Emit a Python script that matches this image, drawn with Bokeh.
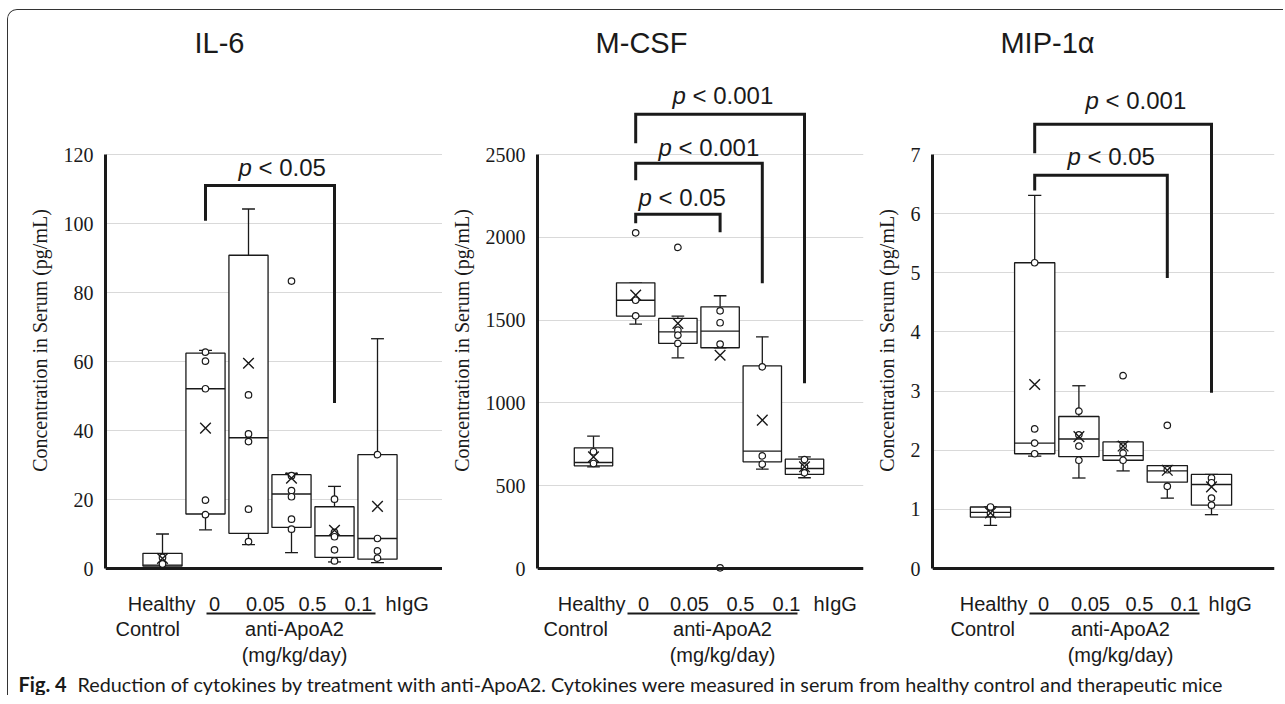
from bokeh.plotting import figure
from bokeh.models import Range1d, FixedTicker, Span, Label
from bokeh.layouts import row, column
from bokeh.embed import file_html
from bokeh.resources import INLINE
from bokeh.core.properties import value

# ---------------- data ----------------
group_top = ["Healthy", "0", "0.05", "0.5", "0.1", "hIgG"]
group_bottom = ["Control", "anti-ApoA2", "(mg/kg/day)"]
group_pos = [1, 2, 3, 4, 5, 6]
y_label = "Concentration in Serum (pg/mL)"

# IL-6
il6_ticks = [0, 20, 40, 60, 80, 100, 120]
il6_q1 = [0.7, 15.8, 10.2, 11.9, 3.2, 2.7]
il6_median = [1.0, 52.1, 37.9, 21.6, 9.5, 8.7]
il6_q3 = [4.4, 62.4, 90.8, 27.2, 17.9, 33.0]
il6_low = [0.0, 11.2, 6.9, 4.6, 1.9, 1.7]
il6_high = [10.0, 63.2, 104.2, 27.6, 23.8, 66.6]
il6_mean = [2.9, 40.7, 59.5, 26.2, 11.1, 18.0]
il6_points = [[3.2, 1.3], [62.7, 60.1, 52.1, 19.8, 15.6], [50.3, 39.0, 36.8, 17.2, 7.8],
              [83.3, 26.9, 22.6, 20.8, 14.3, 11.4], [20.1, 10.5, 9.2, 5.4, 2.2], [33.0, 8.7, 5.1, 3.0]]
il6_br_from = [2]
il6_br_to = [5]
il6_br_top = [111]
il6_br_left_end = [100.8]
il6_br_right_end = [48]
il6_br_text = ["< 0.05"]

# M-CSF
mcsf_ticks = [0, 500, 1000, 1500, 2000, 2500]
mcsf_q1 = [620, 1524, 1359, 1333, 644, 568]
mcsf_median = [640, 1620, 1429, 1433, 709, 604]
mcsf_q3 = [729, 1725, 1510, 1580, 1224, 660]
mcsf_low = [614, 1476, 1272, 1333, 600, 548]
mcsf_high = [799, 1725, 1524, 1647, 1399, 674]
mcsf_mean = [674, 1651, 1480, 1288, 896, 614]
mcsf_points = [[705, 634], [2027, 1620, 1526], [1939, 1439, 1409, 1359],
               [1556, 1484, 1355, 4], [1218, 680, 630], [658, 614, 578]]
mcsf_br_from = [2, 2, 2]
mcsf_br_to = [4, 5, 6]
mcsf_br_top = [2139, 2447, 2743]
mcsf_br_left_end = [2085, 2345, 2568]
mcsf_br_right_end = [2031, 1723, 1119]
mcsf_br_text = ["< 0.05", "< 0.001", "< 0.001"]

# MIP-1alpha
mip_ticks = [0, 1, 2, 3, 4, 5, 6, 7]
mip_q1 = [0.87, 1.94, 1.89, 1.83, 1.46, 1.07]
mip_median = [0.95, 2.12, 2.19, 1.91, 1.65, 1.42]
mip_q3 = [1.04, 5.17, 2.57, 2.14, 1.74, 1.59]
mip_low = [0.73, 1.90, 1.53, 1.65, 1.19, 0.91]
mip_high = [1.04, 6.31, 3.09, 2.14, 1.74, 1.59]
mip_mean = [0.94, 3.11, 2.23, 2.07, 1.66, 1.38]
mip_points = [[1.04, 0.93], [5.17, 2.36, 2.12, 1.94], [2.66, 2.26, 2.07, 1.83],
              [3.26, 2.07, 1.95, 1.83], [2.42, 1.67, 1.39], [1.53, 1.45, 1.19, 1.07]]
mip_br_from = [2, 2]
mip_br_to = [5, 6]
mip_br_top = [6.65, 7.51]
mip_br_left_end = [6.39, 7.02]
mip_br_right_end = [4.91, 2.97]
mip_br_text = ["< 0.05", "< 0.001"]

caption_bold = "Fig. 4"
caption_text = ("Reduction of cytokines by treatment with anti-ApoA2. Cytokines were measured "
                "in serum from healthy control and therapeutic mice")

# ---------------- layout / style (page pixels) ----------------
INK = "#1a1a1a"
GRID = "#d9d9d9"
SANS = "Liberation Sans"
SERIF = "Liberation Serif"
PAGE_TOP = 10
FIG_H = 660
ZERO_Y = 568
TOP_Y = 154
BOX_W = 0.91
CAP_W = 0.3
TOTAL_W = 1267

L1 = dict(fig_left=8, fig_right=442, frame_left=105, frame_right=442, c1=162, step=43.0,
          title_x=219, plabels=[(238, 167)],
          xl=dict(healthy=195, nums=[214, 265, 312, 358], higg=385, ul=(206, 375), control=115, anti=294))
L2 = dict(fig_left=442, fig_right=870, frame_left=537, frame_right=863, c1=593, step=42.2,
          title_x=641, plabels=[(638, 197), (658, 147), (672, 95)],
          xl=dict(healthy=625, nums=[643, 689, 740, 786], higg=813, ul=(627, 797), control=543, anti=722))
L3 = dict(fig_left=870, fig_right=1275, frame_left=932, frame_right=1274, c1=990, step=44.2,
          title_x=1047, plabels=[(1067, 156), (1085, 100)],
          xl=dict(healthy=1027, nums=[1043, 1090, 1139, 1184], higg=1208, ul=(1029, 1199), control=950, anti=1120))


def make_panel(title, ticks, q1, med, q3, lo, hi, mean, pts, bfrom, bto, btop, bleft, bright, btext, L):
    ppu = (ZERO_Y - TOP_Y) / ticks[-1]

    def yp(py):
        return (ZERO_Y - py) / ppu

    def xp(px):
        return 1 + (px - L["c1"]) / L["step"]

    p = figure(width=L["fig_right"] - L["fig_left"], height=FIG_H, output_backend="svg",
               toolbar_location=None, title=None, x_axis_type=None,
               x_range=Range1d(xp(L["frame_left"]), xp(L["frame_right"])),
               y_range=Range1d(yp(PAGE_TOP + FIG_H), yp(PAGE_TOP)),
               min_border_left=L["frame_left"] - L["fig_left"],
               min_border_right=L["fig_right"] - L["frame_right"],
               min_border_top=0, min_border_bottom=0, outline_line_color=None,
               background_fill_color="white", border_fill_color="white")
    ax = p.yaxis[0]
    ax.ticker = FixedTicker(ticks=ticks)
    ax.bounds = (0, ticks[-1])
    ax.axis_line_width = 3
    ax.axis_line_color = INK
    ax.major_tick_out = 0
    ax.major_tick_in = 0
    ax.minor_tick_line_color = None
    ax.major_label_standoff = 12
    ax.major_label_text_font = SERIF
    ax.major_label_text_font_size = "20px"
    ax.major_label_text_color = INK
    ax.axis_label = y_label
    ax.axis_label_text_font = SERIF
    ax.axis_label_text_font_size = "20px"
    ax.axis_label_text_font_style = "normal"
    ax.axis_label_text_color = INK
    ax.axis_label_standoff = 10
    p.ygrid[0].grid_line_color = GRID
    p.ygrid[0].grid_line_width = 1

    p.add_layout(Span(location=0, dimension="width", line_width=3, line_color=INK))

    hw = BOX_W / 2
    cw = CAP_W / 2
    # whiskers
    p.segment(x0=group_pos, x1=group_pos, y0=q3, y1=hi, line_color=INK, line_width=1.3)
    p.segment(x0=group_pos, x1=group_pos, y0=lo, y1=q1, line_color=INK, line_width=1.3)
    p.segment(x0=[x - cw for x in group_pos], x1=[x + cw for x in group_pos], y0=hi, y1=hi,
              line_color=INK, line_width=1.3)
    p.segment(x0=[x - cw for x in group_pos], x1=[x + cw for x in group_pos], y0=lo, y1=lo,
              line_color=INK, line_width=1.3)
    # boxes
    p.vbar(x=group_pos, width=BOX_W, bottom=q1, top=q3, fill_color="white",
           line_color=INK, line_width=1.3)
    p.segment(x0=[x - hw for x in group_pos], x1=[x + hw for x in group_pos], y0=med, y1=med,
              line_color=INK, line_width=1.3)
    # points
    px_ = [g for g, vals in zip(group_pos, pts) for _ in vals]
    py_ = [v for vals in pts for v in vals]
    p.scatter(x=px_, y=py_, marker="circle", size=6.5, fill_color="white",
              line_color=INK, line_width=1.2)
    # means
    p.scatter(x=group_pos, y=mean, marker="x", size=15, line_color=INK, line_width=1.4)

    # significance brackets
    p.multi_line(xs=[[a, a, b, b] for a, b in zip(bfrom, bto)],
                 ys=[[l, t, t, r] for l, t, r in zip(bleft, btop, bright)],
                 line_color=INK, line_width=3, line_join="miter")
    for (lx, ly), txt in zip(L["plabels"], btext):
        p.text(x=[xp(lx)], y=[yp(ly)], text=["p"], text_font=value(SANS),
               text_font_size="24px", text_font_style="italic", text_color=INK,
               text_baseline="middle", text_align="left")
        p.text(x=[xp(lx)], y=[yp(ly)], text=[txt], text_font=value(SANS),
               text_font_size="24px", text_color=INK, x_offset=20,
               text_baseline="middle", text_align="left")

    # title
    p.text(x=[xp(L["title_x"])], y=[yp(42)], text=[title], text_font=value(SANS),
           text_font_size="29px", text_color=INK, text_align="center", text_baseline="middle")

    # group labels below the axis
    xl = L["xl"]
    common = dict(text_font=value(SANS), text_font_size="20px", text_color=INK, text_baseline="middle")
    p.text(x=[xp(xl["healthy"])], y=[yp(603)], text=[group_top[0]], text_align="right", **common)
    p.text(x=[xp(v) for v in xl["nums"]], y=[yp(603)] * 4, text=group_top[1:5],
           text_align="center", **common)
    p.text(x=[xp(xl["higg"])], y=[yp(603)], text=[group_top[5]], text_align="left", **common)
    p.segment(x0=[xp(xl["ul"][0])], x1=[xp(xl["ul"][1])], y0=[yp(613)], y1=[yp(613)],
              line_color=INK, line_width=2)
    p.text(x=[xp(xl["control"])], y=[yp(628)], text=[group_bottom[0]], text_align="left", **common)
    p.text(x=[xp(xl["anti"]), xp(xl["anti"])], y=[yp(628), yp(654)], text=group_bottom[1:],
           text_align="center", **common)
    return p


p1 = make_panel("IL-6", il6_ticks, il6_q1, il6_median, il6_q3, il6_low, il6_high, il6_mean,
                il6_points, il6_br_from, il6_br_to, il6_br_top, il6_br_left_end, il6_br_right_end,
                il6_br_text, L1)
p2 = make_panel("M-CSF", mcsf_ticks, mcsf_q1, mcsf_median, mcsf_q3, mcsf_low, mcsf_high, mcsf_mean,
                mcsf_points, mcsf_br_from, mcsf_br_to, mcsf_br_top, mcsf_br_left_end,
                mcsf_br_right_end, mcsf_br_text, L2)
p3 = make_panel("MIP-1\u03b1", mip_ticks, mip_q1, mip_median, mip_q3, mip_low, mip_high, mip_mean,
                mip_points, mip_br_from, mip_br_to, mip_br_top, mip_br_left_end, mip_br_right_end,
                mip_br_text, L3)

CAP_H = 25
cap = figure(width=TOTAL_W, height=CAP_H, output_backend="svg", toolbar_location=None, title=None,
             x_axis_type=None, y_axis_type=None, x_range=Range1d(0, TOTAL_W), y_range=Range1d(0, CAP_H),
             min_border=0, outline_line_color=None)
cap.add_layout(Label(x=10, y=12, text=caption_bold, text_font="Lato", text_font_size="20px",
                     text_font_style="bold", text_color=INK, text_baseline="middle"))
cap.add_layout(Label(x=69, y=12, text=caption_text, text_font="Lato", text_font_size="19.8px",
                     text_color=INK, text_baseline="middle"))

layout = column(row(p1, p2, p3), cap,
                styles={"border-top": "1px solid #333", "border-left": "1px solid #333",
                        "border-top-left-radius": "10px", "overflow": "hidden",
                        "margin-left": "7px", "margin-top": "9px", "padding-right": "8px"})

open("out.html", "w").write(file_html(layout, INLINE))
